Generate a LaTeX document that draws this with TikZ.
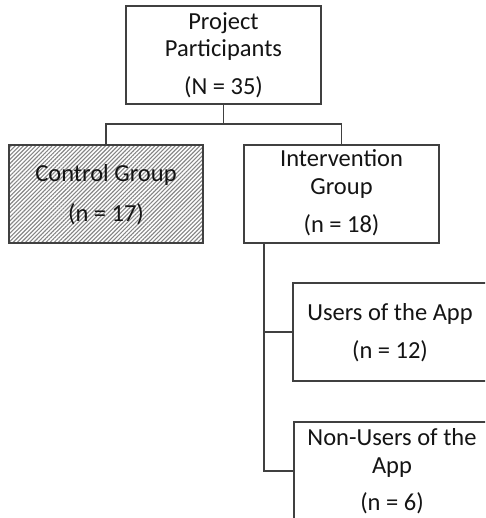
\documentclass[tikz,border=0pt]{standalone}
\usepackage{fontspec}
\setmainfont{Carlito}
\usetikzlibrary{patterns.meta}
\definecolor{boxgray}{HTML}{404040}
\begin{document}
\begin{tikzpicture}[x=1pt,y=-1pt,
  box/.style={draw=boxgray, line width=1.3pt, inner sep=0pt, fill=white},
  hatched/.style={pattern={Lines[angle=45,distance=2.9pt,line width=1.1pt]}, pattern color=gray!95},
  lbl/.style={anchor=base, inner sep=0pt, font=\fontsize{24.5}{29}\selectfont, text=black!92},
  conn/.style={draw=boxgray, line width=1.3pt}]
\useasboundingbox (0,0) rectangle (485,518);
\clip (0,0) rectangle (485,518);
% boxes
\node[box, minimum width=195pt, minimum height=98pt] (top) at (223.5,55) {};
\node[box, minimum width=194pt, minimum height=98pt] (ctrl) at (106,194) {};
\node[box, hatched, minimum width=194pt, minimum height=98pt] (ctrlh) at (106,194) {};
\node[box, minimum width=195pt, minimum height=98pt] (int) at (341.5,194) {};
\node[box, minimum width=195pt, minimum height=98pt] (users) at (390.5,332) {};
\node[box, minimum width=195pt, minimum height=98pt] (non) at (391.5,471) {};
% texts
\node[lbl] (t1) at (223.5,30) {Project};
\node[lbl] (t2) at (223.5,57) {Participants};
\node[lbl] (t3) at (223.5,95) {(N = 35)};
\node[lbl] (c1) at (106,182) {Control Group};
\node[lbl] (c2) at (106,222) {(n = 17)};
\node[lbl] (i1) at (341.5,167) {Intervention};
\node[lbl] (i2) at (341.5,195) {Group};
\node[lbl] (i3) at (341.5,233) {(n = 18)};
\node[lbl] (u1) at (390,320) {Users of the App};
\node[lbl] (u2) at (390,358) {(n = 12)};
\node[lbl] (n1) at (392,445) {Non-Users of the};
\node[lbl] (n2) at (392,473) {App};
\node[lbl] (n3) at (392,510) {(n = 6)};
% connectors
\coordinate (j) at (223.5,124);
\coordinate (b) at (264,243);
\draw[conn] (top.south) -- (j);
\draw[conn] (ctrlh.north) |- (j) -| (int.north);
\draw[conn] (b) |- (users.west);
\draw[conn] (b) |- (non.west);
\end{tikzpicture}
\end{document}
